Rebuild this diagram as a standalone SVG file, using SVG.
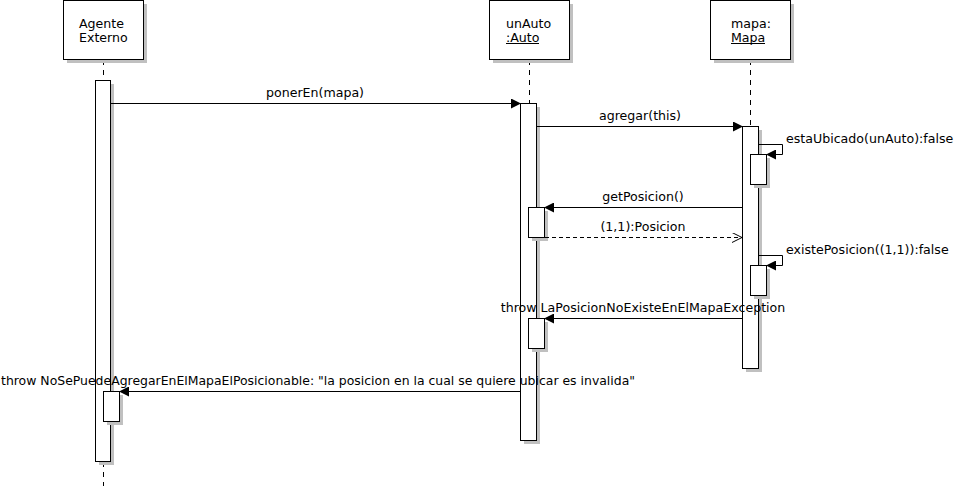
<svg xmlns="http://www.w3.org/2000/svg" width="958" height="486" viewBox="0 0 958 486">
<defs>
<style>
text{font-family:"DejaVu Sans",sans-serif;font-size:12.6px;fill:#000}
.box{fill:#fff;stroke:#000;stroke-width:1}
.sh{fill:#c0c0c0;stroke:none}
.life{stroke:#000;stroke-dasharray:5,5;fill:none}
.msg{stroke:#000;fill:none}
.ret{stroke:#000;fill:none;stroke-dasharray:4,3}
.ul{stroke:#000;stroke-width:1}
.c{text-anchor:middle}
</style>
<marker id="fa" markerWidth="10" markerHeight="10" refX="9" refY="5" orient="auto" markerUnits="userSpaceOnUse"><path d="M0,0 L10,5 L0,10 Z" fill="#000"/></marker>
<marker id="oa" markerWidth="10" markerHeight="10" refX="10" refY="5" orient="auto" markerUnits="userSpaceOnUse"><path d="M0,0 L10,5 L0,10" fill="none" stroke="#000"/></marker>
</defs>
<rect width="958" height="486" fill="#fff"/>

<g id="lifelines">
<line class="life" x1="103.5" y1="60" x2="103.5" y2="80"/>
<line class="life" x1="103.5" y1="462" x2="103.5" y2="486"/>
<line class="life" x1="529.5" y1="60" x2="529.5" y2="103"/>
<line class="life" x1="750.5" y1="60" x2="750.5" y2="126"/>
</g>

<g id="agente">
<rect class="sh" x="67" y="4" width="80" height="59"/>
<rect class="box" x="63.5" y="0.5" width="80" height="59"/>
<text x="79" y="28">Agente</text>
<text x="79" y="42">Externo</text>
<rect class="sh" x="99" y="84" width="15" height="381"/>
<rect class="box" x="95.5" y="80.5" width="15" height="381"/>
</g>

<g id="unAuto">
<rect class="sh" x="493" y="4" width="80" height="59"/>
<rect class="box" x="489.5" y="0.5" width="80" height="59"/>
<text x="506" y="28">unAuto</text>
<text x="506" y="42">:Auto</text>
<line class="ul" x1="506" y1="43.5" x2="539" y2="43.5"/>
<rect class="sh" x="524" y="107" width="16" height="337"/>
<rect class="box" x="520.5" y="103.5" width="16" height="337"/>
</g>

<g id="mapa">
<rect class="sh" x="714" y="4" width="80" height="59"/>
<rect class="box" x="710.5" y="0.5" width="80" height="59"/>
<text x="731" y="28">mapa:</text>
<text x="731" y="42">Mapa</text>
<line class="ul" x1="731" y1="43.5" x2="765" y2="43.5"/>
<rect class="sh" x="746" y="130" width="16" height="242"/>
<rect class="box" x="742.5" y="126.5" width="16" height="242"/>
</g>

<g id="act-estaUbicado">
<rect class="sh" x="754" y="158" width="16" height="30"/>
<rect class="box" x="750.5" y="154.5" width="16" height="30"/>
</g>
<g id="act-getPosicion">
<rect class="sh" x="532" y="211" width="16" height="30"/>
<rect class="box" x="528.5" y="207.5" width="16" height="30"/>
</g>
<g id="act-existePosicion">
<rect class="sh" x="754" y="269" width="16" height="30"/>
<rect class="box" x="750.5" y="265.5" width="16" height="30"/>
</g>
<g id="act-throw1">
<rect class="sh" x="532" y="322" width="16" height="30"/>
<rect class="box" x="528.5" y="318.5" width="16" height="30"/>
</g>
<g id="act-throw2">
<rect class="sh" x="107" y="395" width="16" height="30"/>
<rect class="box" x="103.5" y="391.5" width="16" height="30"/>
</g>

<g id="connectors">
<line class="msg" x1="111" y1="103.5" x2="520" y2="103.5" marker-end="url(#fa)"/>
<text class="c" x="315" y="97">ponerEn(mapa)</text>
<line class="msg" x1="537" y1="126.5" x2="742" y2="126.5" marker-end="url(#fa)"/>
<text class="c" x="640" y="120">agregar(this)</text>
<path class="msg" d="M759,144.5 H782.5 V154.5 H767" marker-end="url(#fa)"/>
<text x="786" y="143">estaUbicado(unAuto):false</text>
<line class="msg" x1="742" y1="207.5" x2="545" y2="207.5" marker-end="url(#fa)"/>
<text class="c" x="643" y="201">getPosicion()</text>
<line class="ret" x1="545" y1="237.5" x2="742" y2="237.5" marker-end="url(#oa)"/>
<text class="c" x="643" y="231">(1,1):Posicion</text>
<path class="msg" d="M759,255.5 H782.5 V265.5 H767" marker-end="url(#fa)"/>
<text x="786" y="254">existePosicion((1,1)):false</text>
<line class="msg" x1="742" y1="318.5" x2="545" y2="318.5" marker-end="url(#fa)"/>
<text class="c" x="643" y="312">throw LaPosicionNoExisteEnElMapaException</text>
<line class="msg" x1="520" y1="391.5" x2="120" y2="391.5" marker-end="url(#fa)"/>
<text x="1" y="385" style="font-size:12.45px">throw NoSePuedeAgregarEnElMapaElPosicionable: "la posicion en la cual se quiere ubicar es invalida"</text>
</g>
</svg>
